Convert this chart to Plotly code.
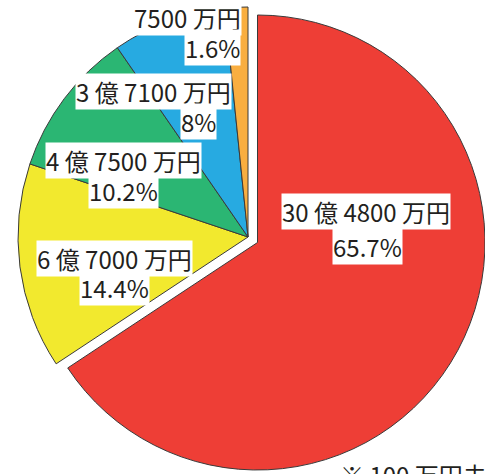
import plotly.graph_objects as go

# Data
labels = ["30 億 4800 万円", "6 億 7000 万円", "4 億 7500 万円", "3 億 7100 万円", "7500 万円"]
amounts_man_yen = [304800, 67000, 47500, 37100, 7500]
percent_labels = ["65.7%", "14.4%", "10.2%", "8%", "1.6%"]
colors = ["#EE3E36", "#F2E92E", "#2BB673", "#27AAE1", "#F9AE40"]
footnote = "※ 100 万円未満は切り捨て"

W, H = 485, 474
TRANSPARENT = "rgba(0,0,0,0)"
LINE = "#3a3a3a"

fig = go.Figure()

# main pie (all slices except the pulled-out first one)
colsA = [TRANSPARENT] + colors[1:]
lwA = [0] + [1] * (len(colors) - 1)
fig.add_trace(go.Pie(
    values=amounts_man_yen, labels=labels, sort=False, direction="clockwise", rotation=0,
    marker=dict(colors=colsA, line=dict(color=LINE, width=lwA)),
    textinfo="none", hoverinfo="skip", showlegend=False,
    domain=dict(x=[18 / W, 478 / W], y=[1 - 467 / H, 1 - 7 / H]),
))

# exploded first slice
colsB = [colors[0]] + [TRANSPARENT] * (len(colors) - 1)
lwB = [1] + [0] * (len(colors) - 1)
fig.add_trace(go.Pie(
    values=amounts_man_yen, labels=labels, sort=False, direction="clockwise", rotation=0,
    marker=dict(colors=colsB, line=dict(color=LINE, width=lwB)),
    textinfo="none", hoverinfo="skip", showlegend=False,
    domain=dict(x=[30 / W, 1.0], y=[1 - 471 / H, 1 - 14 / H]),
))

# label positions (pixel centers) for name line and percent line
name_pos = [(366, 211), (114, 258), (123, 160), (153, 92), (187, 18)]
pct_pos = [(367, 247), (114, 287), (123, 190), (198, 121), (212, 48)]

font = dict(family="Noto Sans CJK JP, Noto Sans, sans-serif", size=24, color="#231F20")
for name, pct, (nx, ny), (px, py) in zip(labels, percent_labels, name_pos, pct_pos):
    for txt, (x, y) in ((name, (nx, ny)), (pct, (px, py))):
        fig.add_annotation(
            x=x / W, y=1 - y / H, xref="paper", yref="paper", text=txt,
            showarrow=False, xanchor="center", yanchor="middle",
            bgcolor="white", borderpad=0, font=font,
        )

fig.add_annotation(
    x=338 / W, y=1 - 455 / H, xref="paper", yref="paper", text=footnote,
    showarrow=False, xanchor="left", yanchor="top", font=font,
)

fig.update_layout(
    width=W, height=H, margin=dict(l=0, r=0, t=0, b=0),
    paper_bgcolor="white", plot_bgcolor="white",
)

fig.write_html(
    "out.html",
    config={"displayModeBar": False},
    post_script="document.body.style.margin='0';document.body.style.overflow='hidden';",
)
